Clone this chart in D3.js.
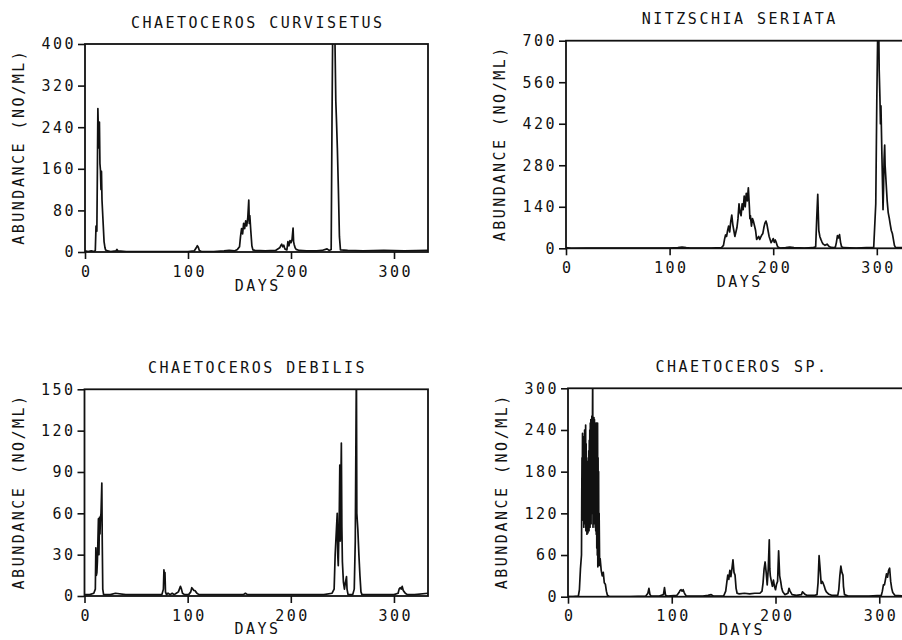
<!DOCTYPE html>
<html>
<head>
<meta charset="utf-8">
<script src="https://cdn.jsdelivr.net/npm/d3@7"></script>
<style>
    body { margin: 0; background: #fff; }
    svg { display: block; }
    text { font-family: 'DejaVu Sans Mono', 'Liberation Mono', monospace; font-size: 15px; letter-spacing: 2.5px; fill: #111; }
</style>
</head>
<body>
<div id="chart"></div>
<script>
// day ticks shared by all panels
const dayTicks = [0, 100, 200, 300];
const dayMax = 333;

// Chaetoceros curvisetus: [day, abundance]
const curvisetusTicks = [0, 80, 160, 240, 320, 400];
const curvisetusData = [
    [0, 2], [3, 1], [6, 2], [9, 1], [10, 3], [10.7, 50], [11.5, 40], [12, 150], [12.5, 276], [13, 230],
    [13.5, 200], [14, 250], [14.5, 170], [15, 157], [15.5, 120], [16, 155], [16.5, 100], [17.5, 60], [18.5, 20],
    [19.4, 8], [20, 4], [22, 2], [25, 1], [30, 2], [31, 5], [32, 2], [40, 1], [60, 1], [80, 1], [100, 1],
    [106, 2], [108, 8], [109, 12], [110, 9], [111, 3], [113, 1], [125, 1], [135, 2], [140, 3], [145, 2],
    [148, 5], [150, 10], [151, 30], [152, 45], [153, 35], [154, 55], [155, 45], [156, 60], [157, 50],
    [158, 65], [159, 100], [159.5, 55], [160, 70], [161, 40], [162, 12], [163, 4], [165, 3], [175, 2],
    [185, 3], [189, 8], [190, 12], [191, 15], [192, 10], [193, 13], [194, 6], [196, 4], [197, 20],
    [198, 12], [199, 22], [200, 18], [201, 24], [202, 46], [202.5, 20], [203, 15], [204, 8], [205, 5],
    [208, 3], [215, 2], [225, 2], [230, 3], [235, 6], [237, 3], [239, 5], [239.8, 250], [240.5, 430],
    [241.5, 520], [242.5, 430], [243.5, 290], [244.2, 250], [245, 200], [246, 120], [247, 30], [248, 4],
    [255, 3], [270, 2], [290, 3], [310, 2], [333, 3]
];

// Nitzschia seriata
const seriataTicks = [0, 140, 280, 420, 560, 700];
const seriataData = [
    [0, 2], [5, 0], [20, 1], [50, 1], [80, 1], [100, 1], [108, 2], [112, 4], [116, 2], [120, 1], [140, 1],
    [150, 2], [152, 10], [153, 30], [154, 45], [155, 40], [156, 60], [157, 75], [158, 55], [159, 90],
    [160, 112], [161, 80], [162, 60], [163, 40], [164, 55], [165, 70], [166, 100], [167, 150], [168, 120],
    [169, 110], [170, 150], [171, 130], [172, 176], [173, 140], [174, 185], [175, 160], [176, 204],
    [177, 140], [177.5, 100], [178, 110], [179, 75], [180, 100], [181, 90], [182, 75], [183, 60], [184, 30],
    [185, 35], [186, 40], [187, 30], [188, 38], [189, 45], [190, 50], [191, 70], [192, 85], [193, 92],
    [194, 80], [195, 60], [196, 41], [197, 30], [198, 19], [199, 25], [200, 33], [201, 20], [202, 28],
    [203, 19], [204, 8], [205, 3], [207, 1], [212, 2], [216, 4], [220, 2], [230, 1], [238, 2], [241, 5],
    [242, 100], [243, 182], [243.5, 120], [244, 60], [245, 40], [246, 30], [247, 22], [248, 15], [250, 10],
    [252, 14], [254, 6], [256, 3], [258, 2], [260, 4], [261, 20], [262, 43], [263, 35], [264, 46],
    [265, 20], [266, 5], [268, 2], [280, 1], [290, 2], [297, 3], [299, 150], [300, 500], [301, 760],
    [301.7, 800], [302.3, 600], [303, 510], [303.5, 420], [304, 480], [305, 300], [306, 130], [306.5, 200],
    [307, 300], [307.6, 348], [308, 280], [309, 220], [310, 160], [311, 120], [312, 102], [313, 80],
    [314, 60], [315, 50], [316, 30], [317, 10], [318, 3], [325, 2], [333, 2]
];

// Chaetoceros debilis
const debilisTicks = [0, 30, 60, 90, 120, 150];
const debilisData = [
    [0, 1], [5, 1], [9, 2], [10.5, 5], [11, 35], [11.5, 15], [12, 17], [12.5, 25], [13, 40], [13.5, 56],
    [14, 30], [14.5, 57], [15, 45], [15.5, 57], [16, 60], [16.8, 82], [17.2, 40], [17.7, 5], [18.5, 1],
    [25, 1], [30, 2], [40, 1], [60, 1], [75, 1], [76.5, 5], [77, 19], [77.5, 15], [78, 17], [78.5, 3],
    [79.5, 1], [81, 2], [83, 1], [85, 2], [87, 1], [89, 2], [91, 3], [92, 5], [93, 7], [94, 5], [95, 2],
    [97, 1], [101, 1], [103, 3], [104, 6], [105, 5], [106, 4], [107, 4], [108, 3], [109, 2], [111, 1],
    [120, 1], [140, 1], [154, 1], [156, 2], [158, 1], [180, 1], [200, 1], [220, 1], [232, 1], [240, 2],
    [242, 5], [243, 30], [244, 45], [245, 60], [245.5, 30], [246, 22], [247, 60], [247.5, 95], [248, 40],
    [248.5, 80], [249, 111], [249.5, 50], [250, 25], [251, 10], [252, 5], [253, 10], [254, 14], [254.5, 5],
    [255.5, 1], [260, 1], [261.5, 5], [262.5, 40], [263.6, 170], [264, 60], [265, 48], [266, 30], [267, 15],
    [268, 3], [269, 1], [280, 1], [300, 1], [304, 2], [305, 5], [306, 6], [307, 5], [308, 7], [309, 4],
    [310, 3], [311, 2], [313, 1], [320, 1], [333, 2]
];

// Chaetoceros sp.
const chaetocerosSpTicks = [0, 60, 120, 180, 240, 300];
const chaetocerosSpData = [
    [0, 0], [5, 0], [10, 1], [11, 10], [12, 40], [13, 60], [13.25, 140], [13.5, 200], [13.75, 150],
    [14, 235], [14.25, 130], [14.5, 225], [14.75, 110], [15, 230], [15.25, 100], [15.5, 215], [15.75, 120],
    [16, 240], [16.25, 105], [16.5, 235], [16.75, 130], [17, 247], [17.25, 95], [17.5, 220], [17.75, 100],
    [18, 200], [18.25, 90], [18.5, 190], [18.75, 95], [19, 180], [19.25, 92], [19.5, 195], [19.75, 100],
    [20, 210], [20.25, 95], [20.5, 225], [20.75, 110], [21, 240], [21.25, 100], [21.5, 250], [21.75, 115],
    [22, 255], [22.25, 105], [22.5, 245], [22.75, 120], [23, 260], [23.4, 200], [23.8, 320], [24.1, 100],
    [24.4, 255], [24.7, 110], [25, 258], [25.25, 105], [25.5, 255], [25.75, 120], [26, 240], [26.25, 100],
    [26.5, 230], [26.75, 95], [27, 250], [27.25, 90], [27.5, 250], [27.75, 70], [28, 240], [28.25, 60],
    [28.5, 250], [28.75, 43], [29, 200], [29.25, 50], [29.5, 180], [29.75, 45], [30, 120], [30.5, 45],
    [31, 55], [32, 38], [33, 30], [34, 35], [35, 20], [36, 18], [37, 8], [38, 2], [40, 0], [60, 0],
    [75, 1], [77, 5], [78, 12], [79, 3], [80, 1], [88, 1], [92, 3], [93, 13], [94, 2], [96, 1], [105, 2],
    [107, 6], [108, 9], [109, 10], [110, 8], [111, 10], [112, 6], [113, 3], [114, 1], [130, 1], [135, 2],
    [138, 3], [140, 1], [150, 1], [152, 8], [153, 20], [154, 31], [155, 25], [156, 38], [157, 29],
    [158, 40], [159, 53], [160, 35], [161, 31], [162, 12], [163, 5], [165, 4], [170, 5], [175, 4],
    [180, 5], [185, 5], [187, 8], [188, 20], [189, 40], [190, 50], [191, 35], [192, 17], [193, 40],
    [194, 82], [194.5, 40], [195, 30], [196, 22], [197, 15], [198, 24], [199, 15], [200, 10], [201, 18],
    [202, 22], [203, 66], [204, 30], [205, 22], [206, 12], [207, 7], [209, 3], [212, 5], [213, 12],
    [214, 8], [216, 3], [220, 2], [225, 3], [226, 7], [228, 4], [230, 2], [238, 2], [240, 3], [241, 20],
    [242, 59], [243, 40], [244, 19], [245, 22], [246, 19], [247, 15], [248, 10], [249, 7], [251, 4],
    [254, 2], [260, 2], [261, 10], [262, 30], [263, 44], [264, 35], [265, 31], [265.5, 15], [266.5, 3],
    [270, 1], [290, 1], [302, 2], [303, 8], [304, 17], [305, 17], [306, 25], [307, 33], [308, 28],
    [309, 38], [310, 41], [311, 22], [312, 12], [313, 6], [315, 2], [325, 1], [333, 2]
];

const panelChart = (props) => {
    const {
        svg,
        left,
        top,
        width,
        height,
        title,
        data,
        yTicks,
        id
    } = props;

    const bounds = svg.append('g')
        .attr('transform', `translate(${left}, ${top})`);

    const xScale = d3.scaleLinear()
        .domain([0, dayMax])
        .range([0, width]);

    const yScale = d3.scaleLinear()
        .domain([0, d3.max(yTicks)])
        .range([height, 0]);

    bounds.append('clipPath')
        .attr('id', `clip-${id}`)
        .append('rect')
        .attr('width', width)
        .attr('height', height);

    const yAxisGroup = bounds.append('g')
        .call(d3.axisLeft(yScale)
            .tickValues(yTicks)
            .tickSize(7)
            .tickPadding(2));

    const xAxisGroup = bounds.append('g')
        .attr('transform', `translate(0, ${height})`)
        .call(d3.axisBottom(xScale)
            .tickValues(dayTicks)
            .tickSize(7)
            .tickPadding(7));

    [xAxisGroup, yAxisGroup].forEach(g => {
        g.select('.domain').remove();
        g.selectAll('line').attr('stroke', '#111').attr('stroke-width', 1.6);
        g.selectAll('text').attr('font-size', null).attr('font-family', null).style('fill', '#111');
    });
    xAxisGroup.selectAll('text').attr('dx', '1.25');

    const lineGenerator = d3.line()
        .x(d => xScale(d[0]))
        .y(d => yScale(d[1]));

    bounds.append('path')
        .attr('clip-path', `url(#clip-${id})`)
        .attr('d', lineGenerator(data))
        .style('fill', 'none')
        .style('stroke', '#111')
        .style('stroke-width', 1.7)
        .style('stroke-linejoin', 'round');

    bounds.append('rect')
        .attr('width', width)
        .attr('height', height)
        .style('fill', 'none')
        .style('stroke', '#111')
        .style('stroke-width', 1.8);

    bounds.append('text')
        .attr('x', width / 2 + 1.25)
        .attr('y', -16.5)
        .attr('text-anchor', 'middle')
        .text(title);

    // bottom row sits right on the page edge, so keep DAYS a touch higher
    bounds.append('text')
        .attr('x', width / 2 + 1.25)
        .attr('y', height + 38.5)
        .attr('text-anchor', 'middle')
        .text('DAYS');

    bounds.append('text')
        .attr('transform', `translate(-61, ${height / 2}) rotate(-90)`)
        .attr('text-anchor', 'middle')
        .attr('dx', 1.25)
        .text('ABUNDANCE (NO/ML)');
};

const svg = d3.select('#chart')
    .append('svg')
    .attr('width', 902)
    .attr('height', 640);

const panels = [
    { id: 'a', title: 'CHAETOCEROS CURVISETUS', data: curvisetusData, yTicks: curvisetusTicks, left: 85, top: 44, width: 343, height: 208 },
    { id: 'b', title: 'NITZSCHIA SERIATA', data: seriataData, yTicks: seriataTicks, left: 566, top: 40.7, width: 345, height: 207.6 },
    { id: 'c', title: 'CHAETOCEROS DEBILIS', data: debilisData, yTicks: debilisTicks, left: 84.5, top: 389.3, width: 343.5, height: 206.7 },
    { id: 'd', title: 'CHAETOCEROS SP.', data: chaetocerosSpData, yTicks: chaetocerosSpTicks, left: 568, top: 388.3, width: 345.5, height: 208.4 }
];

panels.forEach(p => panelChart({ svg, ...p }));
</script>
</body>
</html>
